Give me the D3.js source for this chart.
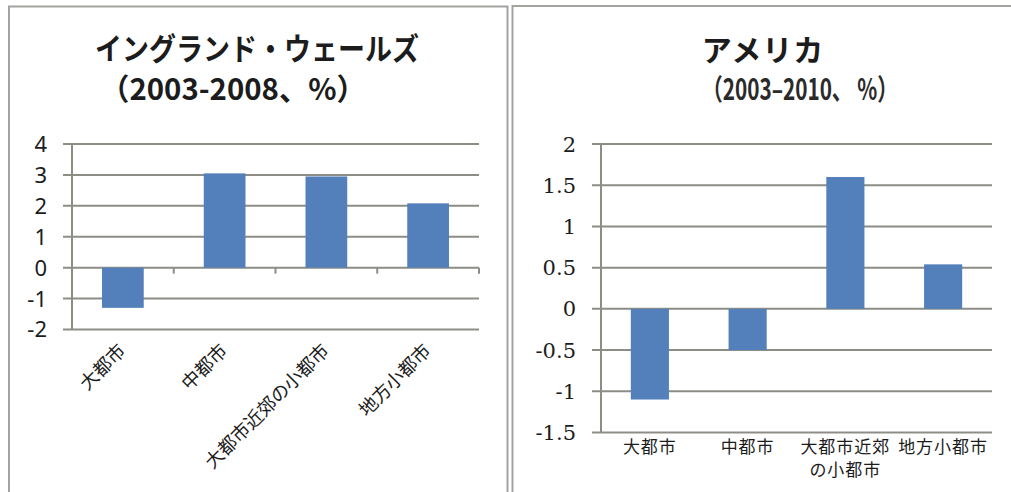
<!DOCTYPE html>
<html><head><meta charset="utf-8">
<script src="https://cdn.jsdelivr.net/npm/d3@7"></script>
<style>
html,body{margin:0;padding:0;background:#fff;}
svg{display:block;}
</style></head>
<body>
<svg id="c" width="1011" height="492"></svg>
<script>
// ---- data ----
const leftTitle = "イングランド・ウェールズ";
const leftSubtitle = "（2003-2008、%）";
const leftCategories = ["大都市", "中都市", "大都市近郊の小都市", "地方小都市"];
const leftValues = [-1.3, 3.05, 2.95, 2.08];
const leftTicks = [-2, -1, 0, 1, 2, 3, 4];

const rightTitle = "アメリカ";
const rightSubtitle = "（2003–2010、 %）";
const rightCategories = ["大都市", "中都市", "大都市近郊の小都市", "地方小都市"];
const rightCategoryLines = [["大都市"], ["中都市"], ["大都市近郊", "の小都市"], ["地方小都市"]];
const rightValues = [-1.1, -0.5, 1.6, 0.54];
const rightTicks = [-1.5, -1, -0.5, 0, 0.5, 1, 1.5, 2];

// ---- styles ----
const barColor = "#5380bb";
const gridColor = "#8d8d86";
const frameColor = "#a3a3a0";
const textColor = "#1c1c1c";

const svg = d3.select("#c");

// frames
svg.append("path").attr("d", "M9,492 V6.5 H507.5 V492").attr("fill", "none")
  .attr("stroke", frameColor).attr("stroke-width", 2);
svg.append("path").attr("d", "M512.5,492 V6 H1011").attr("fill", "none")
  .attr("stroke", frameColor).attr("stroke-width", 2);

// ---------- LEFT CHART ----------
{
  const g = svg.append("g");
  g.append("text").attr("x", 257).attr("y", 60).attr("text-anchor", "middle")
    .attr("font-family", "'Noto Sans CJK JP'").attr("font-weight", "bold")
    .attr("font-size", 27).attr("fill", textColor)
    .attr("transform", "translate(257,60) scale(1,1.12) translate(-257,-60)")
    .text(leftTitle);
  g.append("text").attr("x", 233).attr("y", 100).attr("text-anchor", "middle")
    .attr("font-family", "'Noto Sans CJK JP'").attr("font-weight", "bold")
    .attr("font-size", 30).attr("fill", textColor)
    .attr("textLength", 266).attr("lengthAdjust", "spacingAndGlyphs")
    .text(leftSubtitle);

  const x = d3.scaleBand().domain(leftCategories).range([72, 479]).paddingInner(0.59).paddingOuter(0.295);
  const xb = d3.scaleBand().domain(leftCategories).range([72, 479]);
  const y = d3.scaleLinear().domain([-2, 4]).range([329.5, 144]);

  // gridlines
  g.append("g").selectAll("line").data(leftTicks).join("line")
    .attr("x1", 63).attr("x2", 479).attr("y1", d => y(d)).attr("y2", d => y(d))
    .attr("stroke", gridColor).attr("stroke-width", 2);
  // y axis line
  g.append("line").attr("x1", 72).attr("x2", 72).attr("y1", y(4)).attr("y2", y(-2))
    .attr("stroke", gridColor).attr("stroke-width", 2);
  // y labels
  g.append("g").selectAll("text").data(leftTicks).join("text")
    .attr("x", 47).attr("y", d => y(d)).attr("dy", "0.36em").attr("text-anchor", "end")
    .attr("font-family", "'Noto Sans'").attr("font-size", 22).attr("fill", textColor)
    .text(d => d);
  // x axis ticks at zero
  g.append("g").selectAll("line").data(leftCategories).join("line")
    .attr("x1", (d, i) => xb.range()[0] + xb.step() * (i + 1))
    .attr("x2", (d, i) => xb.range()[0] + xb.step() * (i + 1))
    .attr("y1", y(0)).attr("y2", y(0) + 6)
    .attr("stroke", gridColor).attr("stroke-width", 2);
  // bars
  g.append("g").selectAll("rect").data(leftValues).join("rect")
    .attr("x", (d, i) => x(leftCategories[i]))
    .attr("width", x.bandwidth())
    .attr("y", d => y(Math.max(0, d)))
    .attr("height", d => Math.abs(y(d) - y(0)))
    .attr("fill", barColor);
  // x labels rotated
  g.append("g").selectAll("text").data(leftCategories).join("text")
    .attr("text-anchor", "end")
    .attr("transform", d => `translate(${xb(d) + xb.bandwidth() / 2 + 4},${352}) rotate(-45)`)
    .attr("font-family", "'Noto Sans CJK JP'").attr("font-size", 18.5).attr("fill", textColor)
    .text(d => d);
}

// ---------- RIGHT CHART ----------
{
  const g = svg.append("g");
  g.append("text").attr("x", 763).attr("y", 61).attr("text-anchor", "middle")
    .attr("font-family", "'Noto Sans CJK JP'").attr("font-weight", "bold")
    .attr("font-size", 30).attr("fill", textColor)
    .attr("letter-spacing", 1)
    .text(rightTitle);
  g.append("text").attr("x", 800).attr("y", 100).attr("text-anchor", "middle")
    .attr("font-family", "'Noto Sans CJK JP'").attr("font-weight", "bold")
    .attr("font-size", 29).attr("fill", "#2a2a2a")
    .attr("textLength", 196).attr("lengthAdjust", "spacingAndGlyphs")
    .text(rightSubtitle);

  const x = d3.scaleBand().domain(rightCategories).range([601, 992]).paddingInner(0.61).paddingOuter(0.305);
  const xb = d3.scaleBand().domain(rightCategories).range([601, 992]);
  const y = d3.scaleLinear().domain([-1.5, 2]).range([432.5, 144]);

  g.append("g").selectAll("line").data(rightTicks).join("line")
    .attr("x1", 592).attr("x2", 992).attr("y1", d => y(d)).attr("y2", d => y(d))
    .attr("stroke", gridColor).attr("stroke-width", 2);
  g.append("line").attr("x1", 601).attr("x2", 601).attr("y1", y(2)).attr("y2", y(-1.5))
    .attr("stroke", gridColor).attr("stroke-width", 2);
  g.append("g").selectAll("text").data(rightTicks).join("text")
    .attr("x", 576).attr("y", d => y(d)).attr("dy", "0.36em").attr("text-anchor", "end")
    .attr("font-family", "'DejaVu Serif', 'Liberation Serif', serif").attr("font-size", 21).attr("fill", textColor)
    .text(d => d);
  g.append("g").selectAll("rect").data(rightValues).join("rect")
    .attr("x", (d, i) => x(rightCategories[i]))
    .attr("width", x.bandwidth())
    .attr("y", d => y(Math.max(0, d)))
    .attr("height", d => Math.abs(y(d) - y(0)))
    .attr("fill", barColor);
  const lbl = g.append("g").selectAll("text").data(rightCategories).join("text")
    .attr("text-anchor", "middle")
    .attr("x", d => xb(d) + xb.bandwidth() / 2)
    .attr("y", 453)
    .attr("font-family", "'Noto Sans CJK JP'").attr("font-size", 17).attr("fill", textColor)
    .attr("letter-spacing", 1);
  lbl.selectAll("tspan").data((d, i) => rightCategoryLines[i].map((t, j) => ({t, j, cx: xb(d) + xb.bandwidth() / 2})))
    .join("tspan").attr("x", d => d.cx).attr("dy", d => d.j === 0 ? 0 : 23).text(d => d.t);
}
</script>
</body></html>
